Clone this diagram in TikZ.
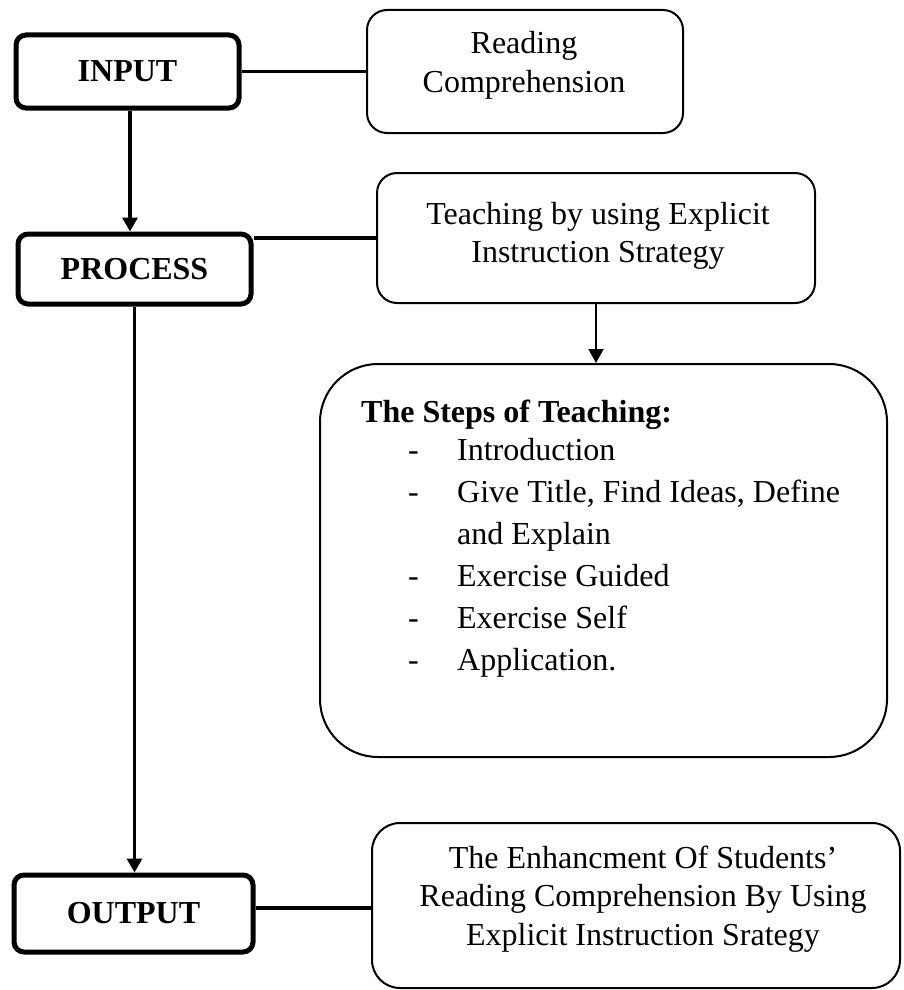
\documentclass[tikz,border=0pt]{standalone}
\usepackage{fontspec}
\setmainfont{Liberation Serif}
\usetikzlibrary{arrows.meta,calc}
\begin{document}
\begin{tikzpicture}[x=1pt,y=-1pt,
  thickbox/.style={draw, line width=5pt, rounded corners=10pt, inner sep=0pt,
    font=\bfseries\fontsize{32}{38.5}\selectfont},
  thinbox/.style={draw, line width=2pt, inner sep=0pt},
  txt/.style={inner sep=0pt, font=\fontsize{32}{38.5}\selectfont},
  conn/.style={line width=3.5pt},
  arr/.style={line width=3.3pt, -{Triangle[length=14pt,width=15pt]}},
  arrthin/.style={line width=2pt, -{Triangle[length=14pt,width=15pt]}}]
\useasboundingbox[fill=white] (0,0) rectangle (903,990);

% boxes
\node[thickbox, minimum width=223pt, minimum height=73pt] (input) at (127.5,71.5) {INPUT};
\node[thinbox, rounded corners=20pt, minimum width=316pt, minimum height=123pt] (rc) at (525,71.5) {};
\node[txt, anchor=base] (rctext) at (524,54)
  {\begin{tabular}[t]{@{}c@{}}Reading\\Comprehension\end{tabular}};

\node[thickbox, minimum width=233pt, minimum height=70pt] (process) at (134.5,269) {PROCESS};
\node[thinbox, rounded corners=20pt, minimum width=438pt, minimum height=130pt] (teach) at (596,238) {};
\node[txt, anchor=base] (teachtext) at (598,224)
  {\begin{tabular}[t]{@{}c@{}}Teaching by using Explicit\\Instruction Strategy\end{tabular}};

\node[thinbox, rounded corners=58pt, minimum width=567pt, minimum height=393pt] (steps) at (603.5,560.5) {};
\node[txt, anchor=base west] (stepstext) at (361,422)
  {\fontsize{32}{42}\selectfont\begin{tabular}[t]{@{}l@{}}
   \textbf{The Steps of Teaching:}\\[-4pt]
   \makebox[96pt][l]{\hspace*{47pt}-}Introduction\\
   \makebox[96pt][l]{\hspace*{47pt}-}Give Title, Find Ideas, Define\\
   \hspace*{96pt}and Explain\\
   \makebox[96pt][l]{\hspace*{47pt}-}Exercise Guided\\
   \makebox[96pt][l]{\hspace*{47pt}-}Exercise Self\\
   \makebox[96pt][l]{\hspace*{47pt}-}Application.
  \end{tabular}};

\node[thickbox, minimum width=239pt, minimum height=77pt] (output) at (133.5,913.5) {OUTPUT};
\node[thinbox, rounded corners=28pt, minimum width=528pt, minimum height=165pt] (result) at (636,905.5) {};
\node[txt, anchor=base] (resulttext) at (643,868)
  {\begin{tabular}[t]{@{}c@{}}The Enhancment Of Students'\\Reading Comprehension By Using\\Explicit Instruction Srategy\end{tabular}};

% connectors
\coordinate (resultin) at ($(result.west)+(0,2.5)$);
\draw[conn] (input) -- (rc);
\draw[conn] (teach.west) -- (teach.west -| process.east);
\draw[conn] (resultin) -- (resultin -| output.east);
\draw[arr] ([xshift=2.5pt]input.south) -- ([xshift=2.5pt]input.south |- process.north);
\draw[arr] (process.south) -- (process.south |- output.north);
\draw[arrthin] (teach.south) -- (teach.south |- steps.north);
\end{tikzpicture}
\end{document}
